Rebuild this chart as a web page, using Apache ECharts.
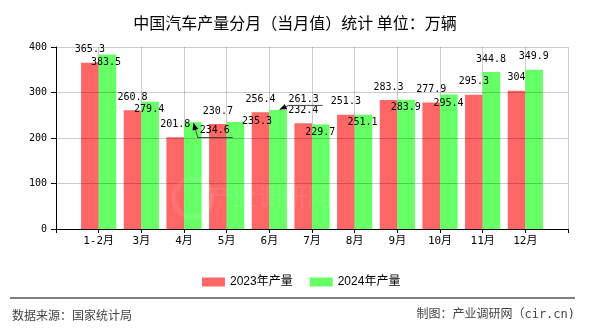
<!DOCTYPE html>
<html>
<head>
<meta charset="utf-8">
<script src="https://cdn.jsdelivr.net/npm/echarts@6/dist/echarts.min.js"></script>
<style>
  html, body { margin: 0; padding: 0; background: #ffffff; }
  #chart { width: 590px; height: 330px; }
</style>
</head>
<body>
<div id="chart"></div>
<script>
// Monthly car output in China (10k vehicles)
const months = ['1-2月', '3月', '4月', '5月', '6月', '7月', '8月', '9月', '10月', '11月', '12月'];
const output2023 = [365.3, 260.8, 201.8, 230.7, 256.4, 232.4, 251.3, 283.3, 277.9, 295.3, 304];
const output2024 = [383.5, 279.4, 234.6, 235.3, 261.3, 229.7, 251.1, 283.9, 295.4, 344.8, 349.9];
const seriesNames = ['2023年产量', '2024年产量'];
const yTicks = [0, 100, 200, 300, 400];

// Label placement (shift of the label centre from the bar's top-centre, px)
const RED_LABEL_SHIFT = [0, -13];
const GREEN_LABEL_SHIFT = [
  [-1.5, 7.5], [-1, 7.5], [22, 8], [21.5, -0.5], [25.5, -11.2],
  [-0.5, 8], [-1, 7.5], [-0.3, 8], [-0.3, 9], [-0.4, -12.6], [-0.3, -13.3]
];
// Labels pushed away from their bar get an underline and an arrow back to it
const LEADERS = [
  { index: 2, underline: [-17, 18, 7.3], tip: [0.7, 0.8] },
  { index: 4, underline: [-15, 19, 6.5], tip: [1.5, -0.5] }
];

const BAR_W = 17.6;
const MONO = '"DejaVu Sans Mono", "Noto Sans CJK SC", monospace';
const CJK = '"Noto Sans CJK SC", sans-serif';

const axisCats = [''].concat(months, ['']);
const pad = arr => [null].concat(arr, [null]);

const chart = echarts.init(document.getElementById('chart'), null, { renderer: 'canvas' });

function labelAt(shiftFn) {
  return function (params) {
    const r = params.rect;
    const s = shiftFn(params.dataIndex - 1);
    return {
      x: r.x + r.width / 2 + s[0],
      y: r.y + s[1],
      align: 'center',
      verticalAlign: 'middle'
    };
  };
}

chart.setOption({
  animation: false,
  backgroundColor: '#ffffff',
  title: {
    text: '中国汽车产量分月（当月值）统计 单位：万辆',
    left: 'center',
    top: 10,
    textStyle: { fontSize: 16, fontWeight: 'normal', color: '#000', fontFamily: CJK }
  },
  legend: {
    data: seriesNames,
    left: 197,
    top: 271,
    icon: 'rect',
    itemWidth: 23,
    itemHeight: 9,
    itemGap: 17,
    textStyle: { fontSize: 12, color: '#000', fontFamily: '"Liberation Sans", "Noto Sans CJK SC", sans-serif' }
  },
  grid: { left: 56, right: 22, top: 47, bottom: 101, containLabel: false, outerBoundsMode: 'none' },
  xAxis: {
    type: 'category',
    data: axisCats,
    boundaryGap: false,
    axisLine: { show: true, lineStyle: { color: '#000', width: 1 } },
    axisTick: { show: true, interval: 0, length: 4, lineStyle: { color: '#000' } },
    axisLabel: { interval: 0, fontSize: 11, color: '#000', fontFamily: MONO, margin: 7 },
    splitLine: { show: true, interval: 0, lineStyle: { color: '#cccccc', width: 1 } }
  },
  yAxis: {
    type: 'value',
    min: yTicks[0],
    max: yTicks[yTicks.length - 1],
    interval: yTicks[1] - yTicks[0],
    z: 3,
    axisLine: { show: true, lineStyle: { color: '#000', width: 1 } },
    axisTick: { show: true, length: 5, lineStyle: { color: '#000' } },
    axisLabel: { fontSize: 10, color: '#000', fontFamily: MONO, margin: 9 },
    splitLine: { show: true, lineStyle: { color: 'rgba(0,0,0,0.2)', width: 1 } }
  },
  series: [
    {
      name: seriesNames[0],
      type: 'bar',
      data: pad(output2023),
      barWidth: BAR_W,
      barGap: '0%',
      itemStyle: { color: '#ff6666' },
      label: { show: true, position: 'top', fontSize: 10, color: '#000', fontFamily: MONO },
      labelLayout: labelAt(() => RED_LABEL_SHIFT)
    },
    {
      name: seriesNames[1],
      type: 'bar',
      data: pad(output2024),
      barWidth: BAR_W,
      barGap: '0%',
      itemStyle: { color: '#66ff66' },
      label: { show: true, position: 'top', fontSize: 10, color: '#000', fontFamily: MONO },
      labelLayout: labelAt(i => GREEN_LABEL_SHIFT[i])
    }
  ]
});

// Leader lines, footer and watermark
const graphics = [];

LEADERS.forEach(ld => {
  const i = ld.index;
  const p = chart.convertToPixel({ xAxisIndex: 0, yAxisIndex: 0 }, [i + 1, output2024[i]]);
  const cx = p[0] + BAR_W / 2;
  const top = p[1];
  const s = GREEN_LABEL_SHIFT[i];
  const lx = cx + s[0], ly = top + s[1];
  const uy = ly + ld.underline[2];
  const start = [lx + ld.underline[0], uy];
  const tip = [cx + ld.tip[0], top + ld.tip[1]];
  graphics.push({
    type: 'polyline',
    z: 10,
    shape: { points: [[lx + ld.underline[1], uy], start, tip] },
    style: { stroke: '#444', lineWidth: 1, fill: null }
  });
  const dx = tip[0] - start[0], dy = tip[1] - start[1];
  const len = Math.sqrt(dx * dx + dy * dy);
  const ux = dx / len, uyv = dy / len;
  const hl = 7, hw = 3;
  const bx = tip[0] - ux * hl, by = tip[1] - uyv * hl;
  graphics.push({
    type: 'polygon',
    z: 10,
    shape: { points: [tip, [bx - uyv * hw, by + ux * hw], [bx + uyv * hw, by - ux * hw]] },
    style: { fill: '#000' }
  });
});

graphics.push(
  {
    type: 'text', z: 5, left: 207, top: 184,
    style: { text: '产业调研网', fontSize: 25, fontFamily: CJK, fill: 'rgba(255,255,255,0.09)' }
  },
  {
    type: 'circle', z: 5, shape: { cx: 193, cy: 198, r: 19 },
    style: { fill: null, stroke: 'rgba(255,255,255,0.09)', lineWidth: 5 }
  },
  {
    type: 'line', z: 5,
    shape: { x1: 10, y1: 298, x2: 575, y2: 298 },
    style: { stroke: '#808080', lineWidth: 2 }
  },
  {
    type: 'text', z: 5, left: 12, top: 309,
    style: { text: '数据来源：国家统计局', fontSize: 12, fontFamily: CJK, fill: '#444' }
  },
  {
    type: 'text', z: 5, right: 15, top: 309,
    style: { text: '制图：产业调研网（cir.cn)', fontSize: 12, fontFamily: MONO, fill: '#444' }
  }
);

chart.setOption({ graphic: graphics });
</script>
</body>
</html>
